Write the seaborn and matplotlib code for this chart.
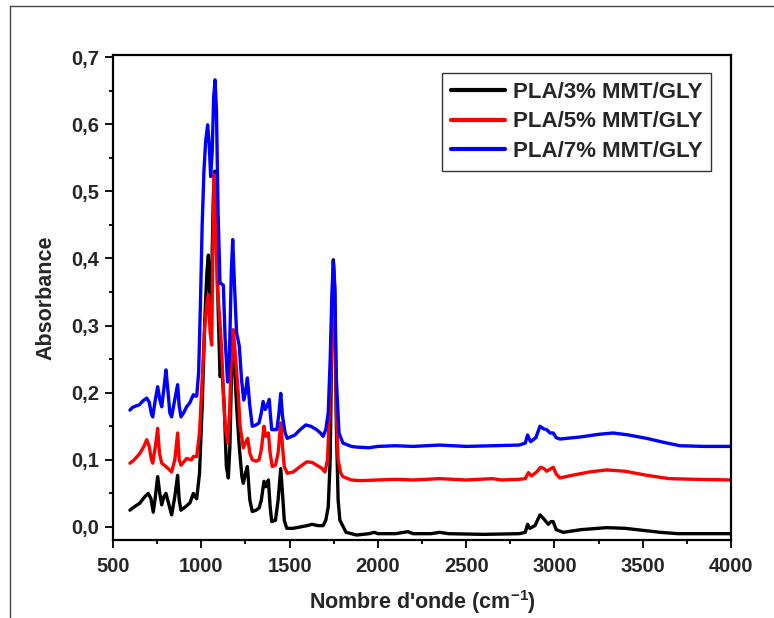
import matplotlib
matplotlib.use("Agg")
import matplotlib.pyplot as plt
import matplotlib.ticker as mticker
from matplotlib.lines import Line2D
import seaborn as sns
import pandas as pd

# ---- data ----
labels = ["PLA/3% MMT/GLY", "PLA/5% MMT/GLY", "PLA/7% MMT/GLY"]
colors = ["#000000", "#ff0000", "#0000ff"]

wn_3 = [596, 620, 650, 680, 700, 715, 728, 740, 753, 765, 776, 788, 800, 815, 832, 850, 866, 875, 885, 910,
        936, 955, 965, 974, 990, 1005, 1020, 1032, 1040, 1050, 1058, 1068, 1076, 1085, 1095, 1106, 1118, 1130,
        1142, 1153, 1162, 1172, 1180, 1190, 1200, 1215, 1230, 1238, 1250, 1261, 1275, 1289, 1310, 1327, 1340,
        1355, 1365, 1380, 1390, 1399, 1420, 1435, 1450, 1460, 1470, 1484, 1520, 1560, 1600, 1627, 1660, 1690,
        1705, 1719, 1730, 1740, 1748, 1756, 1765, 1775, 1785, 1820, 1880, 1950, 1980, 2000, 2100, 2170, 2200,
        2300, 2350, 2400, 2600, 2800, 2835, 2848, 2860, 2890, 2918, 2940, 2965, 2980, 2993, 3010, 3050, 3150,
        3296, 3400, 3500, 3600, 3700, 4000]
abs_3 = [0.025, 0.030, 0.035, 0.045, 0.050, 0.042, 0.022, 0.045, 0.075, 0.050, 0.033, 0.045, 0.050, 0.035,
         0.018, 0.045, 0.077, 0.040, 0.025, 0.030, 0.036, 0.050, 0.045, 0.042, 0.080, 0.180, 0.310, 0.380,
         0.405, 0.330, 0.360, 0.490, 0.530, 0.470, 0.330, 0.224, 0.230, 0.180, 0.090, 0.073, 0.120, 0.240,
         0.280, 0.230, 0.180, 0.120, 0.075, 0.065, 0.080, 0.090, 0.040, 0.023, 0.025, 0.028, 0.040, 0.068,
         0.060, 0.070, 0.030, 0.008, 0.010, 0.040, 0.087, 0.050, 0.010, -0.002, -0.002, 0.000, 0.002, 0.004,
         0.002, 0.002, 0.010, 0.030, 0.100, 0.300, 0.398, 0.350, 0.150, 0.040, 0.010, -0.008, -0.012, -0.010,
         -0.008, -0.010, -0.010, -0.007, -0.010, -0.010, -0.008, -0.010, -0.011, -0.010, -0.008, 0.004,
         -0.002, 0.002, 0.018, 0.012, 0.004, 0.008, 0.008, -0.004, -0.008, -0.004, -0.001, -0.002, -0.005,
         -0.008, -0.010, -0.010]

wn_5 = [596, 620, 653, 675, 691, 705, 718, 725, 740, 753, 763, 776, 800, 820, 832, 850, 866, 875, 885, 917,
        945, 955, 974, 990, 1005, 1020, 1030, 1040, 1050, 1059, 1066, 1073, 1080, 1090, 1106, 1116, 1125, 1135,
        1149, 1160, 1170, 1181, 1195, 1209, 1220, 1238, 1250, 1263, 1275, 1289, 1310, 1327, 1340, 1355, 1365,
        1380, 1390, 1402, 1420, 1435, 1450, 1460, 1470, 1487, 1521, 1560, 1597, 1630, 1653, 1680, 1700, 1715,
        1730, 1742, 1749, 1756, 1765, 1775, 1790, 1802, 1850, 1900, 2000, 2100, 2200, 2350, 2500, 2650, 2700,
        2800, 2835, 2853, 2870, 2900, 2922, 2940, 2956, 2975, 2993, 3010, 3031, 3100, 3200, 3296, 3400, 3522,
        3650, 3800, 4000]
abs_5 = [0.095, 0.100, 0.110, 0.120, 0.130, 0.120, 0.100, 0.095, 0.120, 0.147, 0.110, 0.095, 0.090, 0.085,
         0.082, 0.100, 0.140, 0.100, 0.092, 0.102, 0.100, 0.105, 0.105, 0.140, 0.220, 0.300, 0.330, 0.346,
         0.290, 0.271, 0.420, 0.525, 0.480, 0.360, 0.304, 0.260, 0.200, 0.150, 0.125, 0.170, 0.250, 0.294,
         0.250, 0.200, 0.150, 0.118, 0.125, 0.132, 0.110, 0.100, 0.098, 0.100, 0.115, 0.150, 0.135, 0.140,
         0.110, 0.090, 0.092, 0.110, 0.155, 0.120, 0.090, 0.080, 0.082, 0.090, 0.097, 0.096, 0.092, 0.088,
         0.082, 0.100, 0.200, 0.300, 0.340, 0.300, 0.170, 0.100, 0.080, 0.075, 0.070, 0.069, 0.070, 0.071,
         0.070, 0.072, 0.070, 0.072, 0.070, 0.071, 0.072, 0.081, 0.076, 0.082, 0.089, 0.087, 0.083, 0.086,
         0.089, 0.079, 0.073, 0.077, 0.082, 0.085, 0.083, 0.077, 0.072, 0.071, 0.070]

wn_7 = [596, 610, 627, 650, 670, 691, 705, 718, 725, 740, 753, 765, 776, 790, 800, 812, 822, 832, 850, 866,
        875, 885, 900, 917, 935, 955, 965, 974, 985, 995, 1005, 1015, 1025, 1036, 1045, 1053, 1062, 1070, 1078,
        1086, 1095, 1106, 1115, 1125, 1135, 1149, 1160, 1170, 1178, 1188, 1200, 1215, 1228, 1240, 1250, 1261,
        1275, 1289, 1310, 1327, 1340, 1350, 1362, 1372, 1385, 1392, 1399, 1428, 1440, 1450, 1460, 1475, 1487,
        1530, 1560, 1592, 1620, 1653, 1675, 1690, 1705, 1719, 1730, 1740, 1748, 1756, 1765, 1780, 1802, 1850,
        1880, 1950, 2000, 2100, 2200, 2350, 2500, 2650, 2800, 2835, 2848, 2865, 2895, 2918, 2940, 2956, 2975,
        2993, 3010, 3031, 3145, 3250, 3333, 3420, 3522, 3620, 3711, 3850, 4000]
abs_7 = [0.174, 0.178, 0.180, 0.182, 0.188, 0.192, 0.186, 0.168, 0.164, 0.190, 0.209, 0.190, 0.179, 0.210,
         0.234, 0.200, 0.170, 0.164, 0.190, 0.212, 0.180, 0.164, 0.170, 0.179, 0.185, 0.197, 0.195, 0.195,
         0.230, 0.330, 0.450, 0.530, 0.575, 0.599, 0.570, 0.522, 0.560, 0.640, 0.666, 0.620, 0.470, 0.363,
         0.362, 0.360, 0.280, 0.216, 0.260, 0.380, 0.428, 0.360, 0.289, 0.270, 0.220, 0.189, 0.200, 0.222,
         0.180, 0.150, 0.152, 0.155, 0.170, 0.187, 0.175, 0.180, 0.190, 0.165, 0.145, 0.145, 0.170, 0.199,
         0.165, 0.140, 0.132, 0.137, 0.145, 0.152, 0.150, 0.145, 0.140, 0.135, 0.145, 0.170, 0.250, 0.350,
         0.395, 0.360, 0.220, 0.140, 0.125, 0.120, 0.119, 0.118, 0.120, 0.121, 0.120, 0.122, 0.120, 0.121,
         0.122, 0.125, 0.137, 0.127, 0.133, 0.150, 0.146, 0.145, 0.140, 0.140, 0.133, 0.131, 0.134, 0.138,
         0.140, 0.137, 0.132, 0.126, 0.121, 0.120, 0.120]

x_ticks = [500, 1000, 1500, 2000, 2500, 3000, 3500, 4000]
y_ticks = [0.0, 0.1, 0.2, 0.3, 0.4, 0.5, 0.6, 0.7]
y_tick_labels = ["0,0", "0,1", "0,2", "0,3", "0,4", "0,5", "0,6", "0,7"]

# ---- style ----
sns.set_style("white")
plt.rcParams["font.family"] = ["Liberation Sans", "DejaVu Sans"]
plt.rcParams["font.weight"] = "bold"
plt.rcParams["mathtext.fontset"] = "custom"
plt.rcParams["mathtext.rm"] = "Liberation Sans:bold"
plt.rcParams["mathtext.it"] = "Liberation Sans:bold"
plt.rcParams["mathtext.bf"] = "Liberation Sans:bold"
plt.rcParams["mathtext.default"] = "rm"

fig = plt.figure(figsize=(7.74, 6.18), dpi=100)
ax = fig.add_axes([113 / 774, 1 - 540 / 618, 618 / 774, 485 / 618])

series = [(wn_3, abs_3), (wn_5, abs_5), (wn_7, abs_7)]
for (wn, ab), lab, col in zip(series, labels, colors):
    df = pd.DataFrame({"wn": wn, "abs": ab})
    sns.lineplot(data=df, x="wn", y="abs", sort=False, color=col, lw=2.4, label=lab, ax=ax)

ax.set_xlim(500, 4000)
ax.set_ylim(-0.0194, 0.703)
ax.set_xticks(x_ticks)
ax.set_yticks(y_ticks)
ax.set_yticklabels(y_tick_labels)
ax.xaxis.set_minor_locator(mticker.MultipleLocator(250))
ax.yaxis.set_minor_locator(mticker.MultipleLocator(0.05))
ax.tick_params(which="both", direction="out", top=False, right=False, bottom=True, left=True,
               width=1.3, color="black")
ax.tick_params(which="major", length=5.8, labelsize=14.5)
ax.tick_params(axis="y", which="major", pad=4)
ax.tick_params(axis="x", which="major", pad=6.5)
ax.tick_params(which="minor", length=3)
for lbl in ax.get_xticklabels() + ax.get_yticklabels():
    lbl.set_fontweight("bold")
for s in ax.spines.values():
    s.set_linewidth(1.6)
    s.set_color("black")

ax.set_xlabel("Nombre d'onde (cm$^{-1}$)", fontsize=15.5, fontweight="bold", labelpad=9)
ax.set_ylabel("Absorbance", fontsize=15.5, fontweight="bold", labelpad=11)

leg = ax.legend(loc="upper right", bbox_to_anchor=(0.968, 0.963), borderaxespad=0,
                frameon=True, fancybox=False, edgecolor="black",
                handlelength=2.4, handletextpad=0.36, labelspacing=0.38, borderpad=0.4,
                prop={"weight": "bold", "size": 16})
leg.get_frame().set_linewidth(1.0)
for h in leg.get_lines():
    h.set_linewidth(3.0)

# partial frame around the figure as in the reference
fig.add_artist(Line2D([10 / 774, 1], [1 - 6 / 618, 1 - 6 / 618], color="#444444", lw=1.0))
fig.add_artist(Line2D([10 / 774, 10 / 774], [0, 1 - 6 / 618], color="#444444", lw=1.0))

fig.savefig("out.png", dpi=100)
